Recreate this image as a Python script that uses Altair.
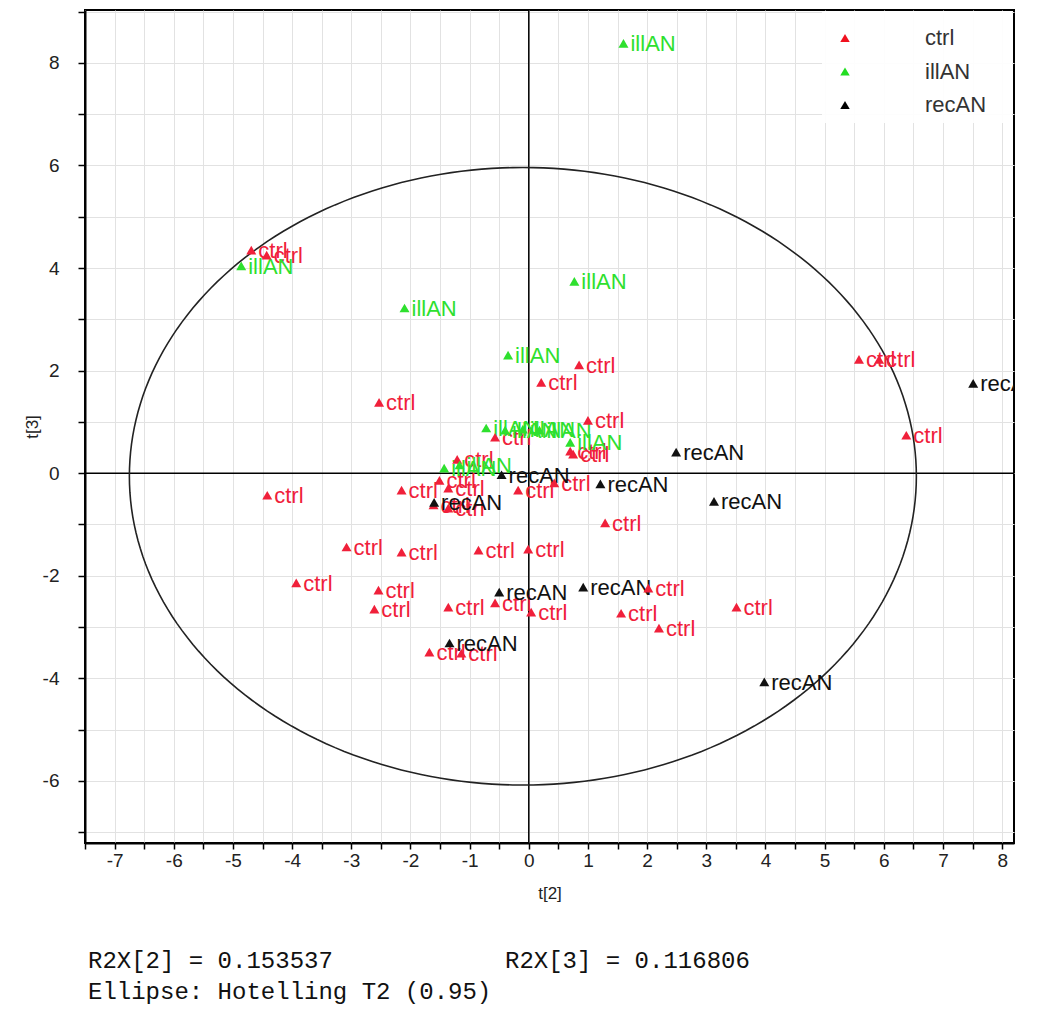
import altair as alt
import pandas as pd
import numpy as np

# ---- data ----
ctrl_x = [-4.69, -4.43, -2.53, 0.85, 0.21, 5.58, 5.92, 6.38, 1.00, -0.57, 0.70, 0.75,
          -1.21, -1.51, -2.15, -1.36, -0.18, 0.43, -1.61, -1.36, 1.29, -4.42, -3.08,
          -2.15, -0.85, -0.01, -3.93, -2.54, -2.61, -1.36, -0.57, 0.04, -1.68, -1.14,
          2.02, 1.56, 2.20, 3.51]
ctrl_y = [4.35, 4.25, 1.38, 2.11, 1.77, 2.22, 2.22, 0.74, 1.03, 0.70, 0.43, 0.37,
          0.27, -0.14, -0.33, -0.29, -0.33, -0.19, -0.62, -0.68, -0.97, -0.43, -1.44,
          -1.54, -1.50, -1.48, -2.14, -2.28, -2.65, -2.61, -2.53, -2.71, -3.49, -3.51,
          -2.24, -2.73, -3.02, -2.61]
illan_x = [1.60, -4.86, -2.10, -0.35, 0.77, -0.72, -0.40, -0.10, 0.18, 0.70, -1.43, -1.17]
illan_y = [8.38, 4.04, 3.22, 2.30, 3.74, 0.88, 0.84, 0.86, 0.84, 0.60, 0.10, 0.16]
recan_x = [7.51, 2.49, 3.13, 1.21, -0.46, -1.60, -0.50, 0.92, 3.98, -1.34]
recan_y = [1.75, 0.41, -0.55, -0.21, -0.03, -0.57, -2.32, -2.22, -4.07, -3.31]

groups = ["ctrl", "illAN", "recAN"]
point_colors = ["#f0101e", "#22dd22", "#000000"]
label_colors = ["#f0203a", "#2ee02e", "#111111"]

# ellipse (Hotelling T2 0.95)
ell_cx, ell_cy, ell_a, ell_b = -0.10, -0.06, 6.65, 6.02

r2x_2 = "R2X[2] = 0.153537"
r2x_3 = "R2X[3] = 0.116806"
ellipse_note = "Ellipse: Hotelling T2 (0.95)"

# ---- tables ----
df = pd.concat([
    pd.DataFrame({"x": ctrl_x, "y": ctrl_y, "group": "ctrl"}),
    pd.DataFrame({"x": illan_x, "y": illan_y, "group": "illAN"}),
    pd.DataFrame({"x": recan_x, "y": recan_y, "group": "recAN"}),
], ignore_index=True)

t = np.linspace(0, 2 * np.pi, 241)
df_ell = pd.DataFrame({"x": ell_cx + ell_a * np.cos(t),
                       "y": ell_cy + ell_b * np.sin(t),
                       "i": np.arange(len(t))})

W, H = 929, 833
x_dom = [-7.5, 8.2]
y_dom = [-7.21, 9.03]
xs = alt.Scale(domain=x_dom, nice=False, zero=False)
ys = alt.Scale(domain=y_dom, nice=False, zero=False)
x_vals = [v / 2 for v in range(-15, 17)]
y_vals = list(range(-7, 10))

FONT = "Liberation Sans"

x_axis = alt.Axis(values=x_vals, labelExpr="datum.value % 1 == 0 ? '' + datum.value : ''",
                  grid=True, gridColor="#e2e2e2", gridWidth=1, tickSize=6, tickWidth=1.5,
                  tickColor="black", domainColor="black", domainWidth=2, labelFontSize=19,
                  labelFont=FONT, labelColor="#222", labelPadding=2, labelOverlap=False,
                  labelFlush=False, title="t[2]", titleFont=FONT, titleFontSize=17,
                  titleFontWeight="normal", titleColor="#222", titleY=42, titleBaseline="top")
y_axis = alt.Axis(values=y_vals, labelExpr="datum.value % 2 == 0 ? '' + datum.value : ''",
                  grid=True, gridColor="#e2e2e2", gridWidth=1, tickSize=7, tickWidth=1.5,
                  tickColor="black", domainColor="black", domainWidth=2, labelFontSize=19,
                  labelFont=FONT, labelColor="#222", labelPadding=19, labelOverlap=False,
                  labelFlush=False, title="t[3]", titleFont=FONT, titleFontSize=17,
                  titleFontWeight="normal", titleColor="#222", titleX=-44, titleAngle=270)

color_scale = alt.Scale(domain=groups, range=point_colors)
label_scale = alt.Scale(domain=groups, range=label_colors)


def X(field):
    return alt.X(field, scale=xs, axis=x_axis)


def Y(field):
    return alt.Y(field, scale=ys, axis=y_axis)


base = alt.Chart(df)

zero = pd.DataFrame({"x": [0], "y": [0]})
vline = alt.Chart(zero).mark_rule(color="black", strokeWidth=1.5).encode(x=X("x:Q"))
hline = alt.Chart(zero).mark_rule(color="black", strokeWidth=1.5).encode(y=Y("y:Q"))

ellipse = alt.Chart(df_ell).mark_line(color="#222", strokeWidth=1.6, clip=True).encode(
    x=X("x:Q"), y=Y("y:Q"), order="i:Q")

pts = base.mark_point(shape="triangle-up", filled=True, size=100, opacity=1, clip=True).encode(
    x=X("x:Q"), y=Y("y:Q"),
    color=alt.Color("group:N", scale=color_scale, legend=None),
)
labels = base.mark_text(align="left", baseline="middle", dx=7, dy=1, fontSize=22,
                        font=FONT, clip=True).encode(
    x=X("x:Q"), y=Y("y:Q"),
    text="group:N",
    color=alt.Color("group:N", scale=label_scale, legend=None),
)

one = pd.DataFrame({"k": [0]})
legend_bg = alt.Chart(one).mark_rect(color="white", opacity=0.92).encode(
    x=alt.value(737), x2=alt.value(927), y=alt.value(1), y2=alt.value(113))

legend_layers = []
for i, g in enumerate(groups):
    yy = 28 + i * 33.5
    legend_layers.append(alt.Chart(one).mark_point(
        shape="triangle-up", filled=True, size=90, color=point_colors[i], opacity=1).encode(
        x=alt.value(760), y=alt.value(yy)))
    legend_layers.append(alt.Chart(one).mark_text(
        text=g, align="left", baseline="middle", fontSize=22, font=FONT, color="#333").encode(
        x=alt.value(840), y=alt.value(yy)))

notes = [
    alt.Chart(one).mark_text(text=r2x_2, align="left", baseline="middle", fontSize=24,
                             font="Liberation Mono", color="#111").encode(
        x=alt.value(3), y=alt.value(951)),
    alt.Chart(one).mark_text(text=r2x_3, align="left", baseline="middle", fontSize=24,
                             font="Liberation Mono", color="#111").encode(
        x=alt.value(420), y=alt.value(951)),
    alt.Chart(one).mark_text(text=ellipse_note, align="left", baseline="middle", fontSize=24,
                             font="Liberation Mono", color="#111").encode(
        x=alt.value(3), y=alt.value(982)),
]

chart = alt.layer(vline, hline, ellipse, labels, pts, legend_bg,
                  *legend_layers, *notes).properties(
    width=W, height=H,
    autosize=alt.AutoSizeParams(type="none"),
    padding={"left": 77, "top": 2, "right": 10, "bottom": 168},
    background="white",
).configure_view(stroke="black", strokeWidth=2)

chart.save("out.html", embed_options={"renderer": "svg", "actions": False})
